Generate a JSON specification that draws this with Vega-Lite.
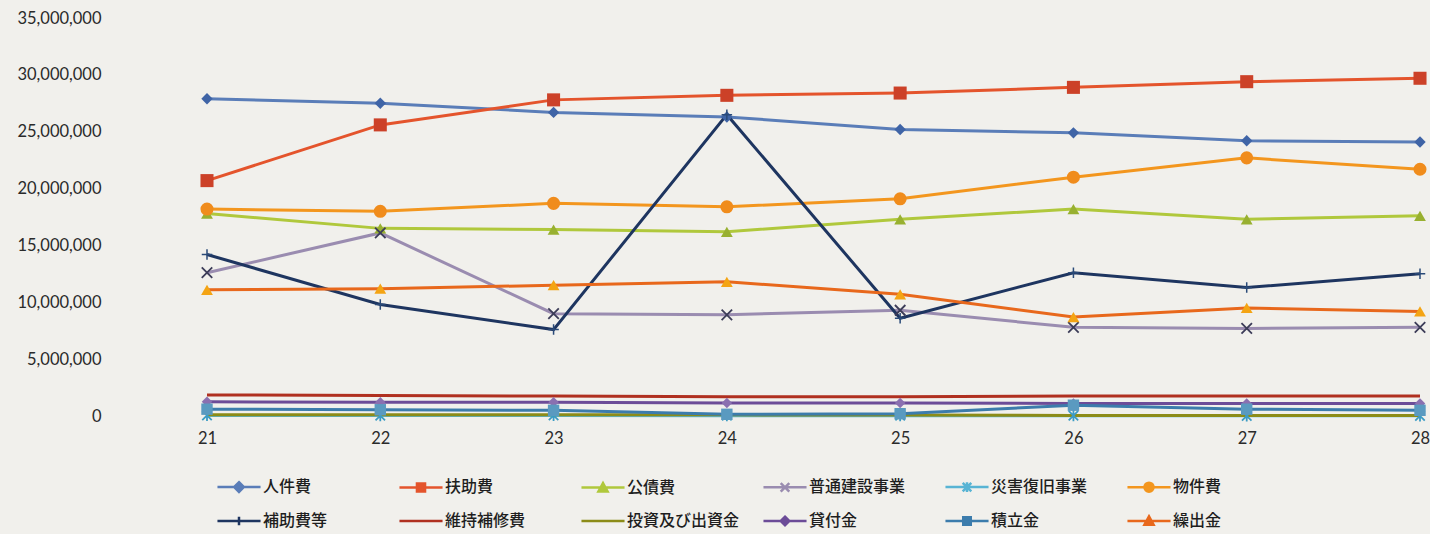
{
  "$schema": "https://vega.github.io/schema/vega-lite/v6.json",
  "width": 1213,
  "height": 398,
  "autosize": {"type": "none"},
  "padding": {"left": 207, "top": 18, "right": 10, "bottom": 118},
  "background": "#f1f0ec",
  "config": {
    "view": {"stroke": null},
    "font": "Lato",
    "legend": {
      "title": null,
      "orient": "none",
      "legendX": 8,
      "legendY": 461,
      "direction": "horizontal",
      "columns": 6,
      "gridAlign": "all",
      "columnPadding": 18,
      "rowPadding": 14,
      "symbolSize": 116,
      "symbolOffset": 16,
      "labelOffset": 16,
      "labelFont": "Noto Sans CJK JP",
      "labelFontSize": 16,
      "labelFontWeight": 500,
      "labelColor": "#1e1e1e",
      "labelLimit": 300
    }
  },
  "data": {"values": [
    {"year": "21", "series": "人件費", "value": 27900000},
    {"year": "22", "series": "人件費", "value": 27500000},
    {"year": "23", "series": "人件費", "value": 26700000},
    {"year": "24", "series": "人件費", "value": 26300000},
    {"year": "25", "series": "人件費", "value": 25200000},
    {"year": "26", "series": "人件費", "value": 24900000},
    {"year": "27", "series": "人件費", "value": 24200000},
    {"year": "28", "series": "人件費", "value": 24100000},
    {"year": "21", "series": "扶助費", "value": 20700000},
    {"year": "22", "series": "扶助費", "value": 25600000},
    {"year": "23", "series": "扶助費", "value": 27800000},
    {"year": "24", "series": "扶助費", "value": 28200000},
    {"year": "25", "series": "扶助費", "value": 28400000},
    {"year": "26", "series": "扶助費", "value": 28900000},
    {"year": "27", "series": "扶助費", "value": 29400000},
    {"year": "28", "series": "扶助費", "value": 29700000},
    {"year": "21", "series": "公債費", "value": 17800000},
    {"year": "22", "series": "公債費", "value": 16500000},
    {"year": "23", "series": "公債費", "value": 16400000},
    {"year": "24", "series": "公債費", "value": 16200000},
    {"year": "25", "series": "公債費", "value": 17300000},
    {"year": "26", "series": "公債費", "value": 18200000},
    {"year": "27", "series": "公債費", "value": 17300000},
    {"year": "28", "series": "公債費", "value": 17600000},
    {"year": "21", "series": "普通建設事業", "value": 12600000},
    {"year": "22", "series": "普通建設事業", "value": 16100000},
    {"year": "23", "series": "普通建設事業", "value": 9000000},
    {"year": "24", "series": "普通建設事業", "value": 8900000},
    {"year": "25", "series": "普通建設事業", "value": 9300000},
    {"year": "26", "series": "普通建設事業", "value": 7800000},
    {"year": "27", "series": "普通建設事業", "value": 7700000},
    {"year": "28", "series": "普通建設事業", "value": 7800000},
    {"year": "21", "series": "災害復旧事業", "value": 50000},
    {"year": "22", "series": "災害復旧事業", "value": 40000},
    {"year": "23", "series": "災害復旧事業", "value": 50000},
    {"year": "24", "series": "災害復旧事業", "value": 30000},
    {"year": "25", "series": "災害復旧事業", "value": 30000},
    {"year": "26", "series": "災害復旧事業", "value": 30000},
    {"year": "27", "series": "災害復旧事業", "value": 20000},
    {"year": "28", "series": "災害復旧事業", "value": 20000},
    {"year": "21", "series": "物件費", "value": 18200000},
    {"year": "22", "series": "物件費", "value": 18000000},
    {"year": "23", "series": "物件費", "value": 18700000},
    {"year": "24", "series": "物件費", "value": 18400000},
    {"year": "25", "series": "物件費", "value": 19100000},
    {"year": "26", "series": "物件費", "value": 21000000},
    {"year": "27", "series": "物件費", "value": 22700000},
    {"year": "28", "series": "物件費", "value": 21700000},
    {"year": "21", "series": "補助費等", "value": 14200000},
    {"year": "22", "series": "補助費等", "value": 9800000},
    {"year": "23", "series": "補助費等", "value": 7600000},
    {"year": "24", "series": "補助費等", "value": 26500000},
    {"year": "25", "series": "補助費等", "value": 8600000},
    {"year": "26", "series": "補助費等", "value": 12600000},
    {"year": "27", "series": "補助費等", "value": 11300000},
    {"year": "28", "series": "補助費等", "value": 12500000},
    {"year": "21", "series": "維持補修費", "value": 1850000},
    {"year": "22", "series": "維持補修費", "value": 1800000},
    {"year": "23", "series": "維持補修費", "value": 1750000},
    {"year": "24", "series": "維持補修費", "value": 1700000},
    {"year": "25", "series": "維持補修費", "value": 1700000},
    {"year": "26", "series": "維持補修費", "value": 1750000},
    {"year": "27", "series": "維持補修費", "value": 1750000},
    {"year": "28", "series": "維持補修費", "value": 1750000},
    {"year": "21", "series": "投資及び出資金", "value": 100000},
    {"year": "22", "series": "投資及び出資金", "value": 100000},
    {"year": "23", "series": "投資及び出資金", "value": 100000},
    {"year": "24", "series": "投資及び出資金", "value": 100000},
    {"year": "25", "series": "投資及び出資金", "value": 80000},
    {"year": "26", "series": "投資及び出資金", "value": 50000},
    {"year": "27", "series": "投資及び出資金", "value": 50000},
    {"year": "28", "series": "投資及び出資金", "value": 50000},
    {"year": "21", "series": "貸付金", "value": 1250000},
    {"year": "22", "series": "貸付金", "value": 1200000},
    {"year": "23", "series": "貸付金", "value": 1200000},
    {"year": "24", "series": "貸付金", "value": 1150000},
    {"year": "25", "series": "貸付金", "value": 1150000},
    {"year": "26", "series": "貸付金", "value": 1100000},
    {"year": "27", "series": "貸付金", "value": 1100000},
    {"year": "28", "series": "貸付金", "value": 1100000},
    {"year": "21", "series": "積立金", "value": 600000},
    {"year": "22", "series": "積立金", "value": 550000},
    {"year": "23", "series": "積立金", "value": 500000},
    {"year": "24", "series": "積立金", "value": 150000},
    {"year": "25", "series": "積立金", "value": 200000},
    {"year": "26", "series": "積立金", "value": 950000},
    {"year": "27", "series": "積立金", "value": 600000},
    {"year": "28", "series": "積立金", "value": 500000},
    {"year": "21", "series": "繰出金", "value": 11100000},
    {"year": "22", "series": "繰出金", "value": 11200000},
    {"year": "23", "series": "繰出金", "value": 11500000},
    {"year": "24", "series": "繰出金", "value": 11800000},
    {"year": "25", "series": "繰出金", "value": 10700000},
    {"year": "26", "series": "繰出金", "value": 8700000},
    {"year": "27", "series": "繰出金", "value": 9500000},
    {"year": "28", "series": "繰出金", "value": 9200000}
  ]},
  "encoding": {
    "x": {"field": "year", "type": "ordinal", "scale": {"padding": 0},
      "axis": {"title": null, "labelAngle": 0, "labelFontSize": 16.5, "labelPadding": 14, "labelColor": "#2a2a2a", "domain": false, "ticks": false, "grid": false}},
    "y": {"field": "value", "type": "quantitative", "scale": {"domain": [0, 35000000], "nice": false},
      "axis": {"title": null, "values": [0, 5000000, 10000000, 15000000, 20000000, 25000000, 30000000, 35000000], "format": ",d", "labelFontSize": 16.5, "labelPadding": 106, "labelColor": "#2a2a2a", "domain": false, "ticks": false, "grid": false}}
  },
  "layer": [
    {
      "mark": {"type": "line", "strokeWidth": 3},
      "encoding": {
        "color": {"field": "series", "type": "nominal",
          "legend": {
            "encode": {
              "symbols": {
                "update": {
                  "fill": {"scale": "color", "field": "value"},
                  "stroke": {"scale": "color", "field": "value"},
                  "opacity": {"value": 1},
                  "strokeWidth": {"value": 2.5}
                }
              }
            }
          },
          "scale": {
            "domain": ["人件費", "扶助費", "公債費", "普通建設事業", "災害復旧事業", "物件費", "補助費等", "維持補修費", "投資及び出資金", "貸付金", "積立金", "繰出金"],
            "range": ["#5a7db8", "#e4542c", "#b0c83c", "#9a8cb0", "#58b4d4", "#f3961e", "#1e3560", "#b03020", "#8c8c18", "#6c4c98", "#3c7cac", "#e8681c"]
          }}
      }
    },
    {"transform": [{"filter": {"field": "series", "equal": "人件費"}}],
     "mark": {"type": "point", "shape": "diamond", "filled": true, "size": 130, "color": "#3f64a6", "opacity": 1}},
    {"transform": [{"filter": {"field": "series", "equal": "扶助費"}}],
     "mark": {"type": "point", "shape": "square", "filled": true, "size": 170, "color": "#cc4128", "opacity": 1}},
    {"transform": [{"filter": {"field": "series", "equal": "公債費"}}],
     "mark": {"type": "point", "shape": "triangle-up", "filled": true, "size": 140, "color": "#98b030", "opacity": 1}},
    {"transform": [{"filter": {"field": "series", "equal": "普通建設事業"}}],
     "mark": {"type": "point", "shape": "M-1,-1L1,1M-1,1L1,-1", "filled": false, "size": 110, "strokeWidth": 1.8, "color": "#3c3c58", "opacity": 1}},
    {"transform": [{"filter": {"field": "series", "equal": "災害復旧事業"}}],
     "mark": {"type": "point", "shape": "M-1,-1L1,1M-1,1L1,-1M0,-1.2L0,1.2", "filled": false, "size": 90, "strokeWidth": 1.8, "color": "#3c9cc4", "opacity": 1}},
    {"transform": [{"filter": {"field": "series", "equal": "物件費"}}],
     "mark": {"type": "point", "shape": "circle", "filled": true, "size": 170, "color": "#f08c1c", "opacity": 1}},
    {"transform": [{"filter": {"field": "series", "equal": "補助費等"}}],
     "mark": {"type": "point", "shape": "M0,-1L0,1M-1,0L1,0", "filled": false, "size": 110, "strokeWidth": 1.5, "color": "#2a4a78", "opacity": 1}},
    {"transform": [{"filter": {"field": "series", "equal": "貸付金"}}],
     "mark": {"type": "point", "shape": "diamond", "filled": true, "size": 110, "color": "#8a70b0", "opacity": 1}},
    {"transform": [{"filter": {"field": "series", "equal": "積立金"}}],
     "mark": {"type": "point", "shape": "square", "filled": true, "size": 130, "color": "#5a9ac0", "opacity": 1}},
    {"transform": [{"filter": {"field": "series", "equal": "繰出金"}}],
     "mark": {"type": "point", "shape": "triangle-up", "filled": true, "size": 140, "color": "#f4a414", "opacity": 1}},
    {
      "mark": {"type": "point", "opacity": 0, "filled": true},
      "encoding": {
        "color": {"field": "series", "type": "nominal"},
        "shape": {"field": "series", "type": "nominal",
          "scale": {
            "domain": ["人件費", "扶助費", "公債費", "普通建設事業", "災害復旧事業", "物件費", "補助費等", "維持補修費", "投資及び出資金", "貸付金", "積立金", "繰出金"],
            "range": [
              "M-4,0L4,0M0,-0.9L0.9,0L0,0.9L-0.9,0Z",
              "M-4,0L4,0M-0.75,-0.75L0.75,-0.75L0.75,0.75L-0.75,0.75Z",
              "M-4,0L4,0M0,-0.85L0.85,0.7L-0.85,0.7Z",
              "M-4,0L4,0M-0.8,-0.8L0.8,0.8M-0.8,0.8L0.8,-0.8",
              "M-4,0L4,0M-0.8,-0.8L0.8,0.8M-0.8,0.8L0.8,-0.8M0,-0.9L0,0.9",
              "M-4,0L4,0M-0.85,0A0.85,0.85 0 1,0 0.85,0A0.85,0.85 0 1,0 -0.85,0Z",
              "M-4,0L4,0M0,-0.8L0,0.8",
              "M-4,0L4,0",
              "M-4,0L4,0",
              "M-4,0L4,0M0,-0.8L0.8,0L0,0.8L-0.8,0Z",
              "M-4,0L4,0M-0.7,-0.7L0.7,-0.7L0.7,0.7L-0.7,0.7Z",
              "M-4,0L4,0M0,-0.85L0.85,0.7L-0.85,0.7Z"
            ]
          },
          "legend": {
            "encode": {
              "symbols": {
                "update": {
                  "fill": {"scale": "color", "field": "value"},
                  "stroke": {"scale": "color", "field": "value"},
                  "opacity": {"value": 1},
                  "strokeWidth": {"value": 2.5}
                }
              }
            }
          }
        }
      }
    }
  ]
}
